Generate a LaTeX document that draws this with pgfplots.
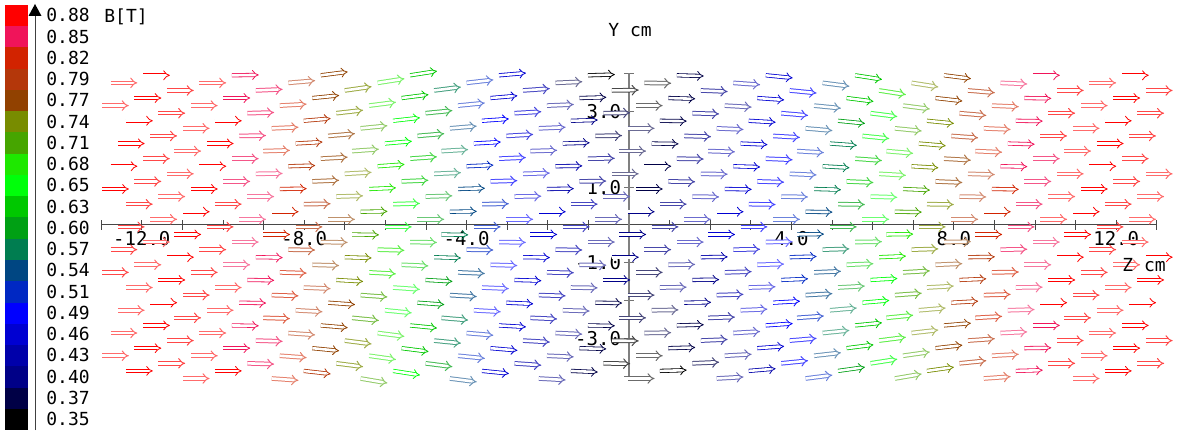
\documentclass[border=0pt]{standalone}
\usepackage{fontspec}
\setmainfont{DejaVu Sans Mono}
\usepackage{pgfplots}
\pgfplotsset{compat=1.18}
\usepackage{pgfplotstable}
\usetikzlibrary{arrows.meta}

% 20-step scale for |B| in tesla, bottom (0.35) to top (0.88)
\definecolor{cb0}{RGB}{0,0,0}
\definecolor{cb1}{RGB}{0,0,70}
\definecolor{cb2}{RGB}{0,0,135}
\definecolor{cb3}{RGB}{0,0,170}
\definecolor{cb4}{RGB}{0,0,210}
\definecolor{cb5}{RGB}{0,0,255}
\definecolor{cb6}{RGB}{0,40,195}
\definecolor{cb7}{RGB}{0,70,130}
\definecolor{cb8}{RGB}{0,125,80}
\definecolor{cb9}{RGB}{0,160,20}
\definecolor{cb10}{RGB}{0,200,0}
\definecolor{cb11}{RGB}{0,255,10}
\definecolor{cb12}{RGB}{30,232,0}
\definecolor{cb13}{RGB}{70,165,0}
\definecolor{cb14}{RGB}{120,140,0}
\definecolor{cb15}{RGB}{145,65,0}
\definecolor{cb16}{RGB}{180,55,10}
\definecolor{cb17}{RGB}{210,35,0}
\definecolor{cb18}{RGB}{240,20,90}
\definecolor{cb19}{RGB}{255,0,0}

\pgfplotsset{
  colormap={bfield}{
    color=(cb0) color=(cb1) color=(cb2) color=(cb3) color=(cb4)
    color=(cb5) color=(cb6) color=(cb7) color=(cb8) color=(cb9)
    color=(cb10) color=(cb11) color=(cb12) color=(cb13) color=(cb14)
    color=(cb15) color=(cb16) color=(cb17) color=(cb18) color=(cb19)
    color=(cb19)},
}

% field samples: z [cm], y [cm], vertical arrow component v, |B| [T]
% front layer
\pgfplotstableread{
z y v b
-11.97 3.95 0.00 0.879
-9.78 3.95 0.01 0.836
-7.59 3.95 0.09 0.745
-5.39 3.95 0.11 0.603
-3.20 3.95 0.06 0.448
-1.01 3.95 0.02 0.361
1.18 3.95 -0.02 0.366
3.37 3.95 -0.07 0.455
5.57 3.95 -0.11 0.616
7.76 3.95 -0.09 0.756
9.95 3.95 0.00 0.839
12.14 3.95 0.00 0.884
-12.18 3.35 0.00 0.884
-9.99 3.35 0.00 0.840
-7.80 3.35 0.07 0.758
-5.60 3.35 0.09 0.618
-3.41 3.35 0.06 0.463
-1.22 3.35 0.02 0.377
0.97 3.35 -0.02 0.369
3.16 3.35 -0.05 0.452
5.36 3.35 -0.09 0.602
7.55 3.35 -0.08 0.743
9.74 3.35 -0.01 0.835
11.93 3.35 0.00 0.879
-12.39 2.75 0.00 0.885
-10.20 2.75 0.00 0.844
-8.01 2.75 0.06 0.770
-5.81 2.75 0.08 0.635
-3.62 2.75 0.05 0.478
-1.43 2.75 0.02 0.392
0.76 2.75 -0.01 0.374
2.95 2.75 -0.04 0.452
5.15 2.75 -0.07 0.589
7.34 2.75 -0.07 0.730
9.53 2.75 -0.01 0.831
11.72 2.75 0.00 0.874
-12.59 2.15 0.00 0.885
-10.40 2.15 0.00 0.848
-8.21 2.15 0.04 0.778
-6.01 2.15 0.06 0.651
-3.82 2.15 0.04 0.492
-1.63 2.15 0.02 0.407
0.56 2.15 -0.01 0.379
2.75 2.15 -0.03 0.452
4.95 2.15 -0.05 0.566
7.14 2.15 -0.06 0.718
9.33 2.15 -0.02 0.823
11.52 2.15 0.00 0.870
-12.77 1.55 0.00 0.885
-10.58 1.55 0.00 0.852
-8.39 1.55 0.02 0.786
-6.19 1.55 0.05 0.661
-4.00 1.55 0.03 0.512
-1.81 1.55 0.01 0.421
0.38 1.55 0.00 0.385
2.57 1.55 -0.02 0.452
4.77 1.55 -0.04 0.558
6.96 1.55 -0.04 0.708
9.15 1.55 -0.01 0.816
11.34 1.55 0.00 0.867
-12.98 0.95 0.00 0.885
-10.79 0.95 0.00 0.856
-8.60 0.95 0.01 0.794
-6.40 0.95 0.03 0.674
-4.21 0.95 0.02 0.528
-2.02 0.95 0.01 0.437
0.17 0.95 0.00 0.389
2.36 0.95 -0.01 0.447
4.56 0.95 -0.02 0.549
6.75 0.95 -0.03 0.695
8.94 0.95 -0.01 0.808
11.13 0.95 0.00 0.863
-10.99 0.35 0.00 0.860
-8.80 0.35 0.00 0.802
-6.61 0.35 0.01 0.687
-4.41 0.35 0.01 0.543
-2.22 0.35 0.00 0.452
-0.03 0.35 0.00 0.396
2.16 0.35 0.00 0.450
4.35 0.35 -0.01 0.539
6.55 0.35 -0.01 0.683
8.74 0.35 0.00 0.800
10.93 0.35 0.00 0.859
-11.20 -0.25 0.00 0.864
-9.01 -0.25 0.00 0.810
-6.82 -0.25 -0.01 0.699
-4.62 -0.25 -0.01 0.560
-2.43 -0.25 0.00 0.459
-0.24 -0.25 0.00 0.401
1.95 -0.25 0.00 0.445
4.14 -0.25 0.01 0.527
6.34 -0.25 0.01 0.670
8.53 -0.25 0.00 0.791
10.72 -0.25 0.00 0.854
-11.38 -0.85 0.00 0.868
-9.19 -0.85 -0.01 0.818
-7.00 -0.85 -0.02 0.710
-4.80 -0.85 -0.02 0.564
-2.61 -0.85 -0.01 0.460
-0.42 -0.85 0.00 0.395
1.77 -0.85 0.01 0.430
3.96 -0.85 0.02 0.510
6.16 -0.85 0.03 0.660
8.35 -0.85 0.01 0.784
10.54 -0.85 0.00 0.851
12.73 -0.85 0.00 0.885
-11.59 -1.45 0.00 0.872
-9.40 -1.45 -0.01 0.826
-7.21 -1.45 -0.04 0.723
-5.01 -1.45 -0.04 0.581
-2.82 -1.45 -0.02 0.461
-0.63 -1.45 0.00 0.391
1.56 -1.45 0.01 0.415
3.75 -1.45 0.03 0.496
5.95 -1.45 0.04 0.646
8.14 -1.45 0.03 0.776
10.33 -1.45 0.00 0.847
12.52 -1.45 0.00 0.885
-11.79 -2.05 0.00 0.876
-9.60 -2.05 -0.01 0.832
-7.41 -2.05 -0.05 0.735
-5.21 -2.05 -0.05 0.593
-3.02 -2.05 -0.03 0.460
-0.83 -2.05 -0.01 0.386
1.36 -2.05 0.01 0.400
3.55 -2.05 0.04 0.482
5.75 -2.05 0.06 0.630
7.94 -2.05 0.04 0.766
10.13 -2.05 0.00 0.843
12.32 -2.05 0.00 0.885
-11.97 -2.65 0.00 0.879
-9.78 -2.65 -0.01 0.836
-7.59 -2.65 -0.06 0.745
-5.39 -2.65 -0.07 0.603
-3.20 -2.65 -0.04 0.462
-1.01 -2.65 -0.01 0.380
1.18 -2.65 0.02 0.385
3.37 -2.65 0.05 0.469
5.57 -2.65 0.07 0.616
7.76 -2.65 0.06 0.756
9.95 -2.65 0.00 0.839
12.14 -2.65 0.00 0.884
-12.18 -3.25 0.00 0.884
-9.99 -3.25 0.00 0.840
-7.80 -3.25 -0.07 0.758
-5.60 -3.25 -0.09 0.618
-3.41 -3.25 -0.06 0.464
-1.22 -3.25 -0.02 0.378
0.97 -3.25 0.02 0.370
3.16 -3.25 0.05 0.454
5.36 -3.25 0.09 0.602
7.55 -3.25 0.08 0.743
9.74 -3.25 0.01 0.835
11.93 -3.25 0.00 0.879
-12.39 -3.85 0.00 0.885
-10.20 -3.85 0.00 0.844
-8.01 -3.85 -0.08 0.770
-5.81 -3.85 -0.11 0.635
-3.62 -3.85 -0.07 0.467
-1.43 -3.85 -0.03 0.375
0.76 -3.85 0.02 0.357
2.95 -3.85 0.06 0.441
5.15 -3.85 0.10 0.589
7.34 -3.85 0.10 0.730
9.53 -3.85 0.02 0.831
11.72 -3.85 0.00 0.874
}\layerfront

% middle layer
\pgfplotstableread{
z y v b
-12.77 3.75 0.00 0.885
-10.58 3.75 0.00 0.852
-8.39 3.75 0.06 0.786
-6.19 3.75 0.11 0.661
-4.00 3.75 0.08 0.501
-1.81 3.75 0.03 0.388
0.38 3.75 -0.01 0.352
2.57 3.75 -0.05 0.430
4.77 3.75 -0.09 0.547
6.96 3.75 -0.11 0.708
9.15 3.75 -0.03 0.816
11.34 3.75 0.00 0.867
-12.98 3.15 0.00 0.885
-10.79 3.15 0.00 0.856
-8.60 3.15 0.04 0.794
-6.40 3.15 0.09 0.674
-4.21 3.15 0.07 0.517
-2.02 3.15 0.03 0.404
0.17 3.15 0.00 0.356
2.36 3.15 -0.04 0.414
4.56 3.15 -0.07 0.538
6.75 3.15 -0.09 0.695
8.94 3.15 -0.03 0.808
11.13 3.15 0.00 0.863
-10.99 2.55 0.00 0.860
-8.80 2.55 0.03 0.802
-6.61 2.55 0.07 0.687
-4.41 2.55 0.06 0.532
-2.22 2.55 0.03 0.419
-0.03 2.55 0.00 0.363
2.16 2.55 -0.03 0.417
4.35 2.55 -0.06 0.528
6.55 2.55 -0.07 0.683
8.74 2.55 -0.03 0.800
10.93 2.55 0.00 0.859
-11.20 1.95 0.00 0.864
-9.01 1.95 0.02 0.810
-6.82 1.95 0.05 0.699
-4.62 1.95 0.04 0.551
-2.43 1.95 0.02 0.434
-0.24 1.95 0.00 0.376
1.95 1.95 -0.02 0.420
4.14 1.95 -0.04 0.518
6.34 1.95 -0.06 0.670
8.53 1.95 -0.03 0.791
10.72 1.95 0.00 0.854
-11.38 1.35 0.00 0.868
-9.19 1.35 0.01 0.818
-7.00 1.35 0.04 0.710
-4.80 1.35 0.03 0.561
-2.61 1.35 0.02 0.455
-0.42 1.35 0.00 0.388
1.77 1.35 -0.01 0.423
3.96 1.35 -0.03 0.505
6.16 1.35 -0.04 0.660
8.35 1.35 -0.02 0.784
10.54 1.35 0.00 0.851
12.73 1.35 0.00 0.885
-11.59 0.75 0.00 0.872
-9.40 0.75 0.00 0.826
-7.21 0.75 0.02 0.723
-5.01 0.75 0.02 0.581
-2.82 0.75 0.01 0.468
-0.63 0.75 0.00 0.402
1.56 0.75 -0.01 0.426
3.75 0.75 -0.01 0.503
5.95 0.75 -0.02 0.646
8.14 0.75 -0.01 0.776
10.33 0.75 0.00 0.847
12.52 0.75 0.00 0.885
-11.79 0.15 0.00 0.876
-9.60 0.15 0.00 0.832
-7.41 0.15 0.00 0.735
-5.21 0.15 0.00 0.593
-3.02 0.15 0.00 0.479
-0.83 0.15 0.00 0.415
1.36 0.15 0.00 0.429
3.55 0.15 0.00 0.501
5.75 0.15 0.00 0.630
7.94 0.15 0.00 0.766
10.13 0.15 0.00 0.843
12.32 0.15 0.00 0.885
-11.97 -0.45 0.00 0.879
-9.78 -0.45 0.00 0.836
-7.59 -0.45 -0.01 0.745
-5.39 -0.45 -0.01 0.603
-3.20 -0.45 -0.01 0.484
-1.01 -0.45 0.00 0.413
1.18 -0.45 0.00 0.418
3.37 -0.45 0.01 0.491
5.57 -0.45 0.01 0.616
7.76 -0.45 0.01 0.756
9.95 -0.45 0.00 0.839
12.14 -0.45 0.00 0.884
-12.18 -1.05 0.00 0.884
-9.99 -1.05 0.00 0.840
-7.80 -1.05 -0.02 0.758
-5.60 -1.05 -0.03 0.618
-3.41 -1.05 -0.02 0.486
-1.22 -1.05 -0.01 0.411
0.97 -1.05 0.01 0.403
3.16 -1.05 0.02 0.476
5.36 -1.05 0.03 0.602
7.55 -1.05 0.03 0.743
9.74 -1.05 0.00 0.835
11.93 -1.05 0.00 0.879
-12.39 -1.65 0.00 0.885
-10.20 -1.65 0.00 0.844
-8.01 -1.65 -0.03 0.770
-5.81 -1.65 -0.05 0.635
-3.62 -1.65 -0.03 0.489
-1.43 -1.65 -0.01 0.408
0.76 -1.65 0.01 0.390
2.95 -1.65 0.02 0.463
5.15 -1.65 0.04 0.589
7.34 -1.65 0.04 0.730
9.53 -1.65 0.01 0.831
11.72 -1.65 0.00 0.874
-12.59 -2.25 0.00 0.885
-10.40 -2.25 0.00 0.848
-8.21 -2.25 -0.04 0.778
-6.01 -2.25 -0.07 0.651
-3.82 -2.25 -0.04 0.491
-1.63 -2.25 -0.02 0.405
0.56 -2.25 0.01 0.377
2.75 -2.25 0.03 0.451
4.95 -2.25 0.06 0.566
7.14 -2.25 0.06 0.718
9.33 -2.25 0.02 0.823
11.52 -2.25 0.00 0.870
-12.77 -2.85 0.00 0.885
-10.58 -2.85 0.00 0.852
-8.39 -2.85 -0.05 0.786
-6.19 -2.85 -0.09 0.661
-4.00 -2.85 -0.06 0.506
-1.81 -2.85 -0.03 0.401
0.38 -2.85 0.01 0.365
2.57 -2.85 0.04 0.439
4.77 -2.85 0.07 0.552
6.96 -2.85 0.08 0.708
9.15 -2.85 0.03 0.816
11.34 -2.85 0.00 0.867
-12.98 -3.45 0.00 0.885
-10.79 -3.45 0.00 0.856
-8.60 -3.45 -0.05 0.794
-6.40 -3.45 -0.10 0.674
-4.21 -3.45 -0.07 0.516
-2.02 -3.45 -0.03 0.399
0.17 -3.45 0.00 0.351
2.36 -3.45 0.04 0.409
4.56 -3.45 0.08 0.537
6.75 -3.45 0.10 0.695
8.94 -3.45 0.04 0.808
11.13 -3.45 0.00 0.863
-10.99 -4.05 0.00 0.860
-8.80 -4.05 -0.05 0.802
-6.61 -4.05 -0.12 0.687
-4.41 -4.05 -0.09 0.525
-2.22 -4.05 -0.04 0.396
-0.03 -4.05 0.00 0.340
2.16 -4.05 0.04 0.394
4.35 -4.05 0.09 0.521
6.55 -4.05 0.12 0.683
8.74 -4.05 0.05 0.800
10.93 -4.05 0.00 0.859
}\layermid

% back layer
\pgfplotstableread{
z y v b
-11.38 3.55 0.00 0.868
-9.19 3.55 0.03 0.818
-7.00 3.55 0.10 0.710
-4.80 3.55 0.09 0.550
-2.61 3.55 0.05 0.433
-0.42 3.55 0.01 0.355
1.77 3.55 -0.03 0.390
3.96 3.55 -0.07 0.483
6.16 3.55 -0.11 0.660
8.35 3.55 -0.06 0.784
10.54 3.55 0.00 0.851
12.73 3.55 0.00 0.885
-11.59 2.95 0.00 0.872
-9.40 2.95 0.02 0.826
-7.21 2.95 0.08 0.723
-5.01 2.95 0.07 0.581
-2.82 2.95 0.04 0.446
-0.63 2.95 0.01 0.369
1.56 2.95 -0.02 0.393
3.75 2.95 -0.06 0.481
5.95 2.95 -0.09 0.646
8.14 2.95 -0.06 0.776
10.33 2.95 0.00 0.847
12.52 2.95 0.00 0.885
-11.79 2.35 0.00 0.876
-9.60 2.35 0.01 0.832
-7.41 2.35 0.06 0.735
-5.21 2.35 0.06 0.593
-3.02 2.35 0.04 0.457
-0.83 2.35 0.01 0.382
1.36 2.35 -0.02 0.396
3.55 2.35 -0.04 0.479
5.75 2.35 -0.07 0.630
7.94 2.35 -0.05 0.766
10.13 2.35 0.00 0.843
12.32 2.35 0.00 0.885
-11.97 1.75 0.00 0.879
-9.78 1.75 0.00 0.836
-7.59 1.75 0.04 0.745
-5.39 1.75 0.05 0.603
-3.20 1.75 0.03 0.471
-1.01 1.75 0.01 0.394
1.18 1.75 -0.01 0.399
3.37 1.75 -0.03 0.478
5.57 1.75 -0.05 0.616
7.76 1.75 -0.04 0.756
9.95 1.75 0.00 0.839
12.14 1.75 0.00 0.884
-12.18 1.15 0.00 0.884
-9.99 1.15 0.00 0.840
-7.80 1.15 0.03 0.758
-5.60 1.15 0.03 0.618
-3.41 1.15 0.02 0.485
-1.22 1.15 0.01 0.410
0.97 1.15 -0.01 0.402
3.16 1.15 -0.02 0.475
5.36 1.15 -0.03 0.602
7.55 1.15 -0.03 0.743
9.74 1.15 0.00 0.835
11.93 1.15 0.00 0.879
-12.39 0.55 0.00 0.885
-10.20 0.55 0.00 0.844
-8.01 0.55 0.01 0.770
-5.81 0.55 0.02 0.635
-3.62 0.55 0.01 0.500
-1.43 0.55 0.00 0.425
0.76 0.55 0.00 0.407
2.95 0.55 -0.01 0.474
5.15 0.55 -0.01 0.589
7.34 0.55 -0.01 0.730
9.53 0.55 0.00 0.831
11.72 0.55 0.00 0.874
-12.59 -0.05 0.00 0.885
-10.40 -0.05 0.00 0.848
-8.21 -0.05 0.00 0.778
-6.01 -0.05 0.00 0.651
-3.82 -0.05 0.00 0.512
-1.63 -0.05 0.00 0.438
0.56 -0.05 0.00 0.410
2.75 -0.05 0.00 0.472
4.95 -0.05 0.00 0.577
7.14 -0.05 0.00 0.718
9.33 -0.05 0.00 0.823
11.52 -0.05 0.00 0.870
-12.77 -0.65 0.00 0.885
-10.58 -0.65 0.00 0.852
-8.39 -0.65 -0.01 0.786
-6.19 -0.65 -0.02 0.661
-4.00 -0.65 -0.01 0.517
-1.81 -0.65 -0.01 0.434
0.38 -0.65 0.00 0.398
2.57 -0.65 0.01 0.461
4.77 -0.65 0.02 0.563
6.96 -0.65 0.02 0.708
9.15 -0.65 0.01 0.816
11.34 -0.65 0.00 0.867
-12.98 -1.25 0.00 0.885
-10.79 -1.25 0.00 0.856
-8.60 -1.25 -0.02 0.794
-6.40 -1.25 -0.04 0.674
-4.21 -1.25 -0.03 0.527
-2.02 -1.25 -0.01 0.432
0.17 -1.25 0.00 0.384
2.36 -1.25 0.02 0.442
4.56 -1.25 0.03 0.548
6.75 -1.25 0.04 0.695
8.94 -1.25 0.01 0.808
11.13 -1.25 0.00 0.863
-10.99 -1.85 0.00 0.860
-8.80 -1.85 -0.02 0.802
-6.61 -1.85 -0.05 0.687
-4.41 -1.85 -0.04 0.536
-2.22 -1.85 -0.02 0.429
-0.03 -1.85 0.00 0.373
2.16 -1.85 0.02 0.427
4.35 -1.85 0.04 0.532
6.55 -1.85 0.05 0.683
8.74 -1.85 0.02 0.800
10.93 -1.85 0.00 0.859
-11.20 -2.45 0.00 0.864
-9.01 -2.45 -0.02 0.810
-6.82 -2.45 -0.07 0.699
-4.62 -2.45 -0.06 0.549
-2.43 -2.45 -0.03 0.426
-0.24 -2.45 0.00 0.368
1.95 -2.45 0.02 0.412
4.14 -2.45 0.05 0.516
6.34 -2.45 0.07 0.670
8.53 -2.45 0.04 0.791
10.72 -2.45 0.00 0.854
-11.38 -3.05 0.00 0.868
-9.19 -3.05 -0.02 0.818
-7.00 -3.05 -0.09 0.710
-4.80 -3.05 -0.07 0.553
-2.61 -3.05 -0.04 0.438
-0.42 -3.05 -0.01 0.362
1.77 -3.05 0.03 0.397
3.96 -3.05 0.06 0.488
6.16 -3.05 0.09 0.660
8.35 -3.05 0.05 0.784
10.54 -3.05 0.00 0.851
12.73 -3.05 0.00 0.885
-11.59 -3.65 0.00 0.872
-9.40 -3.65 -0.02 0.826
-7.21 -3.65 -0.09 0.723
-5.01 -3.65 -0.09 0.581
-2.82 -3.65 -0.05 0.439
-0.63 -3.65 -0.01 0.358
1.56 -3.65 0.03 0.382
3.75 -3.65 0.07 0.474
5.95 -3.65 0.11 0.646
8.14 -3.65 0.07 0.776
10.33 -3.65 0.00 0.847
12.52 -3.65 0.00 0.885
}\layerback

\tikzset{
  fieldarrow/.style={line width=0.5pt, double=white, double distance=1.3pt, -{Implies}},
}

\begin{document}
\begin{tikzpicture}[x=0.5pt, y=0.5pt, font=\fontsize{9}{10}\selectfont]
\useasboundingbox (0,0) rectangle (1177,434);

\begin{axis}[
  at={(314.5pt,104.5pt)}, anchor=center,
  scale only axis, width=527.8pt, height=151.6pt,
  xmin=-13, xmax=13, ymin=-4, ymax=4,
  axis lines=center,
  axis line style={-},
  x axis line style={draw=black!72, line width=0.5pt},
  y axis line style={draw=black!50, line width=0.6pt},
  clip=false,
  xtick={-12,-8,-4,4,8,12},
  xticklabels={-12.0,-8.0,-4.0,4.0,8.0,12.0},
  minor xtick={-13,-11,-10,-9,-7,-6,-5,-3,-2,-1,1,2,3,5,6,7,9,10,11,13},
  ytick={-3,-1,1,3},
  yticklabels={-3.0,-1.0,1.0,3.0},
  minor ytick={-4,-2,2,4},
  tick align=center,
  major tick length=5pt, minor tick length=5pt,
  x tick style={draw=black!72, line width=0.5pt},
  y tick style={draw=black!55, line width=0.5pt},
  xticklabel style={font=\fontsize{9.5}{10}\selectfont, anchor=north, yshift=3pt},
  yticklabel style={font=\fontsize{9.5}{10}\selectfont, anchor=east, xshift=2pt},
  point meta min=0.336, point meta max=0.894,
  colormap name=bfield,
  colormap access=piecewise constant,
]
\addplot[point meta=\thisrow{b},
  quiver={u=0.66, v=\thisrow{v}, colored=mapped color!58!white,
    every arrow/.append style={fieldarrow}}]
  table[x=z, y=y] {\layermid};
\addplot[point meta=\thisrow{b},
  quiver={u=0.66, v=\thisrow{v}, colored=mapped color!72!white,
    every arrow/.append style={fieldarrow}}]
  table[x=z, y=y] {\layerback};
\addplot[point meta=\thisrow{b},
  quiver={u=0.66, v=\thisrow{v}, colored=mapped color,
    every arrow/.append style={fieldarrow, line width=0.4pt}}]
  table[x=z, y=y] {\layerfront};
\end{axis}

% colour scale
\foreach \k in {0,...,19}{
  \fill[cb\k] (5,{4+21.25*\k}) rectangle (28,{4+21.25*(\k+1)});
}
\foreach \k/\lab in {0/0.35,1/0.37,2/0.40,3/0.43,4/0.46,5/0.49,6/0.51,7/0.54,8/0.57,9/0.60,
                     10/0.63,11/0.65,12/0.68,13/0.71,14/0.74,15/0.77,16/0.79,17/0.82,18/0.85,19/0.88}{
  \node[anchor=west, inner sep=0pt] at (46,{4+21.25*\k+11}) {\lab};
}
\draw[black!75, line width=0.5pt] (35,4) -- (35,420);
\fill[black] (28.5,418) -- (41.5,418) -- (35,430) -- cycle;

\node[anchor=west, inner sep=0pt] at (104,417) {B[T]};
\node[anchor=west, inner sep=0pt] at (608,404) {Y cm};
\node[anchor=west, inner sep=0pt] at (1122,169) {Z cm};
\end{tikzpicture}
\end{document}
